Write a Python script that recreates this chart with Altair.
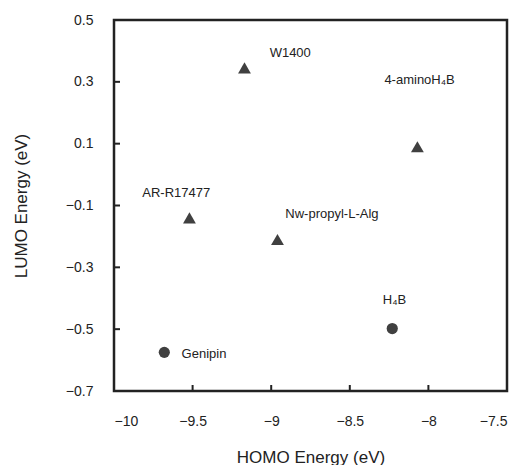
import altair as alt
import pandas as pd

names = ["W1400", "4-aminoH₄B", "AR-R17477", "Nw-propyl-L-Alg", "H₄B", "Genipin"]
homo = [-9.17, -8.07, -9.52, -8.96, -8.23, -9.68]
lumo = [0.345, 0.09, -0.14, -0.21, -0.498, -0.575]
kind = ["triangle", "triangle", "triangle", "triangle", "circle", "circle"]
label_x = [-9.01, -8.28, -9.82, -8.91, -8.29, -9.57]
label_y = [0.393, 0.306, -0.060, -0.128, -0.406, -0.581]
x_ticks = [-9.5, -9.0, -8.5, -8.0]
y_ticks = [0.3, 0.1, -0.1, -0.3, -0.5]

df = pd.DataFrame({"name": names, "homo": homo, "lumo": lumo, "kind": kind,
                   "lx": label_x, "ly": label_y})
W, H = 393, 371
FONT = "Liberation Sans"
xs = alt.Scale(domain=[-10, -7.5], nice=False, zero=False)
ys = alt.Scale(domain=[-0.7, 0.5], nice=False, zero=False)

xax = alt.Axis(values=[-10, -9.5, -9, -8.5, -8, -7.5], format="~g", ticks=False, domain=False, grid=False,
               labelPadding=23, labelFontSize=14, labelColor="#222", labelFont=FONT,
               title="HOMO Energy (eV)", titleFontSize=17, titleFontWeight="normal", titleFont=FONT,
               titleColor="#222", titlePadding=21)
yax = alt.Axis(values=[0.5, 0.3, 0.1, -0.1, -0.3, -0.5, -0.7], format=".1f", ticks=False, domain=False, grid=False,
               labelPadding=21, labelFontSize=14, labelColor="#222", labelFont=FONT,
               title="LUMO Energy (eV)", titleFontSize=17, titleFontWeight="normal", titleFont=FONT,
               titleColor="#222", titlePadding=35)

points = alt.Chart(df).mark_point(filled=True, opacity=1, color="#404040").encode(
    x=alt.X("homo:Q", scale=xs, axis=xax),
    y=alt.Y("lumo:Q", scale=ys, axis=yax),
    shape=alt.Shape("kind:N", scale=alt.Scale(domain=["triangle", "circle"],
                                              range=["triangle-up", "circle"]), legend=None),
    size=alt.Size("kind:N", scale=alt.Scale(domain=["triangle", "circle"], range=[165, 125]), legend=None),
)

labels = alt.Chart(df).mark_text(align="left", baseline="middle", fontSize=13, font=FONT, color="#222").encode(
    x=alt.X("lx:Q", scale=xs), y=alt.Y("ly:Q", scale=ys), text="name:N")

xt = alt.Chart(pd.DataFrame({"v": x_ticks})).mark_rule(color="#222", strokeWidth=2).encode(
    x=alt.X("v:Q", scale=xs), y=alt.value(H), y2=alt.value(H - 6))
yt = alt.Chart(pd.DataFrame({"v": y_ticks})).mark_rule(color="#222", strokeWidth=2).encode(
    y=alt.Y("v:Q", scale=ys), x=alt.value(0), x2=alt.value(6))

chart = alt.layer(points, labels, xt, yt).properties(
    width=W, height=H,
    autosize=alt.AutoSizeParams(type="none"),
    padding={"left": 106, "top": 12, "right": 13, "bottom": 74},
).configure_view(stroke="#222", strokeWidth=2.5)

chart.save("out.html", embed_options={"renderer": "svg", "actions": False})
